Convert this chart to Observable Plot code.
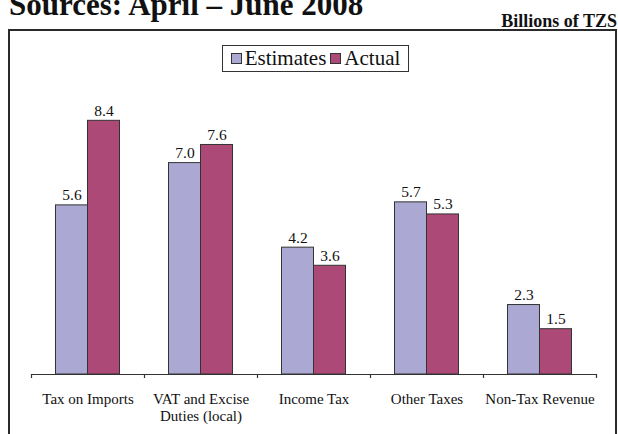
<!DOCTYPE html>
<html>
<head>
<meta charset="utf-8">
<script src="https://cdn.jsdelivr.net/npm/d3@7"></script>
<script src="https://cdn.jsdelivr.net/npm/@observablehq/plot@0.6"></script>
<style>
  html, body { margin: 0; padding: 0; background: #fff; }
  body { width: 618px; height: 434px; overflow: hidden; position: relative; font-family: "Liberation Serif", "Times New Roman", serif; color: #111; }
  #title { position: absolute; left: 9px; top: -11px; font-size: 31px; line-height: 31px; font-weight: bold; white-space: nowrap; }
  #unit { position: absolute; right: 1px; top: 12px; font-size: 18px; line-height: 18px; font-weight: bold; white-space: nowrap; }
  #box { position: absolute; left: 8px; top: 29px; width: 605px; height: 420px; border: 2px solid #2a2a2a; pointer-events: none; }
  #chart { position: absolute; left: 0; top: 0; }
  #chart svg text { font-family: "Liberation Serif", "Times New Roman", serif; }
  #legend { position: absolute; left: 222px; top: 45px; width: 185px; height: 25px; border: 1px solid #333; background: #fff; display: flex; align-items: center; justify-content: center; font-size: 21px; line-height: 25px; }
  #legend .item { display: flex; align-items: center; margin: 0 2px; }
  #legend .sw { width: 9px; height: 9px; border: 1px solid #333; margin-right: 3px; }
</style>
</head>
<body>
<div id="chart"></div>
<div id="title">Sources: April – June 2008</div>
<div id="unit">Billions of TZS</div>
<div id="box"></div>
<div id="legend"></div>
<script>
const categories = ["Tax on Imports", "VAT and Excise\nDuties (local)", "Income Tax", "Other Taxes", "Non-Tax Revenue"];
const series = ["Estimates", "Actual"];
const estimates = [5.6, 7.0, 4.2, 5.7, 2.3];
const actual = [8.4, 7.6, 3.6, 5.3, 1.5];
const colors = ["#aba9d4", "#ad4977"];

const W = 618, H = 434;
const mL = 31, mR = 22, mT = 72, mB = 60;
const band = (W - mL - mR) / categories.length;
const barW = 32;
const outer = (band - 2 * barW) / 2;

const rows = [];
categories.forEach((c, i) => {
  rows.push({category: c, series: series[0], value: estimates[i]});
  rows.push({category: c, series: series[1], value: actual[i]});
});
const est = rows.filter(d => d.series === series[0]);
const act = rows.filter(d => d.series === series[1]);

const font = "'Liberation Serif', 'Times New Roman', serif";

const plot = Plot.plot({
  width: W, height: H,
  marginLeft: mL, marginRight: mR, marginTop: mT, marginBottom: mB,
  style: {background: "transparent", fontFamily: font, color: "#111"},
  x: {domain: categories, padding: 0, label: null},
  y: {domain: [0, 10], axis: null},
  color: {domain: series, range: colors},
  marks: [
    Plot.barY(est, {x: "category", y: "value", fill: "series", stroke: "#333", strokeWidth: 1, insetLeft: outer, insetRight: outer + barW}),
    Plot.barY(act, {x: "category", y: "value", fill: "series", stroke: "#333", strokeWidth: 1, insetLeft: outer + barW, insetRight: outer}),
    Plot.text(est, {x: "category", y: "value", text: d => d.value.toFixed(1), dx: -barW / 2, dy: -5, lineAnchor: "bottom", fontSize: 15.5, fontFamily: font, fill: "#111"}),
    Plot.text(act, {x: "category", y: "value", text: d => d.value.toFixed(1), dx: barW / 2, dy: -5, lineAnchor: "bottom", fontSize: 15.5, fontFamily: font, fill: "#111"}),
    Plot.ruleY([0], {stroke: "#333", strokeWidth: 1.2}),
    Plot.ruleX(categories, {x: d => d, y1: 0, y2: 0, insetBottom: -4, dx: -band / 2, stroke: "#333", strokeWidth: 1.2}),
    Plot.ruleX(categories.slice(-1), {x: d => d, y1: 0, y2: 0, insetBottom: -4, dx: band / 2, stroke: "#333", strokeWidth: 1.2}),
    Plot.axisX({tickSize: 0, tickPadding: 17, fontSize: 15, fontFamily: font, lineHeight: 1.15, label: null, fill: "#111"})
  ]
});
document.getElementById("chart").appendChild(plot);

const legend = document.getElementById("legend");
series.forEach((s, i) => {
  const item = document.createElement("div");
  item.className = "item";
  const sw = document.createElement("div");
  sw.className = "sw";
  sw.style.background = colors[i];
  const t = document.createElement("span");
  t.textContent = s;
  item.appendChild(sw);
  item.appendChild(t);
  legend.appendChild(item);
});
</script>
</body>
</html>
